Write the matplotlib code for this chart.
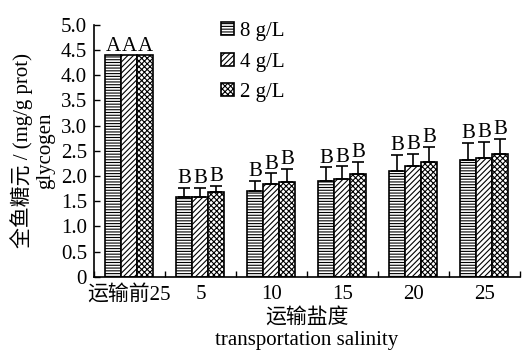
import matplotlib
matplotlib.use("Agg")
import matplotlib.pyplot as plt
import numpy as np

plt.rcParams['font.family'] = ['Liberation Serif', 'Noto Sans CJK SC']
plt.rcParams['hatch.linewidth'] = 0.8

groups = ['运输前25', '5', '10', '15', '20', '25']
series = ['8 g/L', '4 g/L', '2 g/L']
means_8 = [4.40, 1.59, 1.71, 1.91, 2.10, 2.32]
means_4 = [4.40, 1.58, 1.84, 1.95, 2.20, 2.36]
means_2 = [4.40, 1.69, 1.88, 2.04, 2.28, 2.44]
err_8 = [0.0, 0.18, 0.20, 0.26, 0.32, 0.34]
err_4 = [0.0, 0.19, 0.22, 0.24, 0.24, 0.32]
err_2 = [0.0, 0.12, 0.26, 0.24, 0.30, 0.30]
letters = ['A', 'B', 'B', 'B', 'B', 'B']

means = [means_8, means_4, means_2]
errs = [err_8, err_4, err_2]
hatches = ['------', '//////', 'xxxxxx']

fig = plt.figure(figsize=(5.22, 3.5), dpi=100)
ax = fig.add_axes([0.180, 0.209, 0.816, 0.720])

x = np.arange(len(groups))
w = 0.225
for i in range(3):
    xs = x + (i - 1) * w
    m = np.array(means[i])
    e = np.array(errs[i])
    ax.bar(xs, m, w, facecolor='white', edgecolor='black', linewidth=1.2,
           hatch=hatches[i], label=series[i], zorder=2)
    has = e > 0
    ax.errorbar(xs[has], m[has], yerr=[np.zeros(has.sum()), e[has]], fmt='none',
                ecolor='black', elinewidth=1.2, capsize=4, capthick=1.2, zorder=3)
    for xi, mi, ei, lt in zip(xs, m, e, letters):
        ax.text(xi, mi + ei - 0.01, lt, ha='center', va='bottom', fontsize=15)

ax.set_xlim(-0.5, 5.5)
ax.set_ylim(0, 5.0)
ax.set_yticks(np.arange(0, 5.01, 0.5))
ax.set_yticklabels(['0'] + ['%.1f' % v for v in np.arange(0.5, 5.01, 0.5)], fontsize=15)
ax.set_xticks(x)
ax.set_xticklabels(groups, fontsize=15)
ax.set_xticks(np.arange(-0.5, 5.6, 1), minor=True)
ax.tick_params(axis='x', which='major', length=0, pad=6)
ax.tick_params(axis='x', which='minor', direction='in', length=4, width=1)
ax.tick_params(axis='y', direction='in', length=4, width=1, pad=5)

for s in ['top', 'right']:
    ax.spines[s].set_visible(False)
for s in ['left', 'bottom']:
    ax.spines[s].set_linewidth(1.2)

ax.set_ylabel('全鱼糖元 / (mg/g prot)\nglycogen', fontsize=15, linespacing=1.25, labelpad=4)
ax.set_xlabel('运输盐度\ntransportation salinity', fontsize=15, linespacing=1.25, labelpad=2)

ax.legend(loc='upper left', bbox_to_anchor=(0.255, 1.085), frameon=False, fontsize=15,
          handlelength=0.6, handleheight=0.6, handletextpad=0.3, labelspacing=0.55)

fig.savefig('out.png', dpi=100)
